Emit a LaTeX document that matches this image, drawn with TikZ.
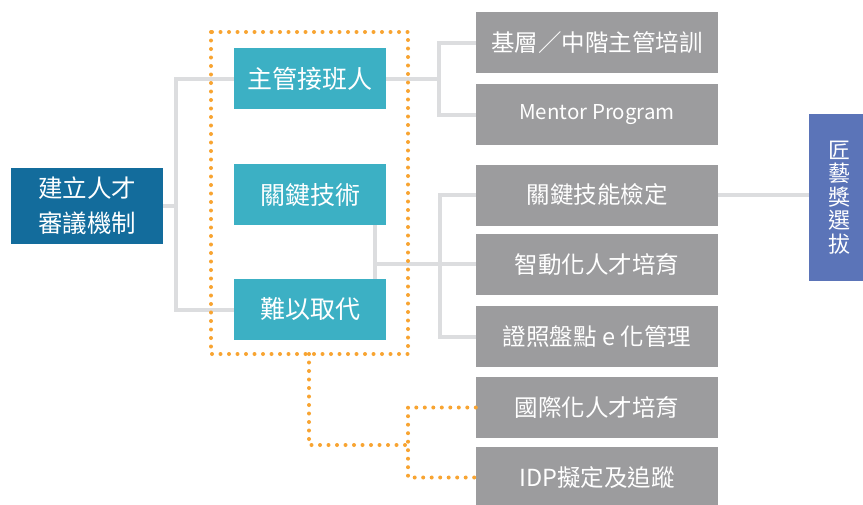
\documentclass[tikz,border=0pt]{standalone}
\usepackage{fontspec}
\setmainfont{Noto Sans CJK TC}
\definecolor{navy}{HTML}{136C9C}
\definecolor{teal}{HTML}{3CB0C4}
\definecolor{grayb}{HTML}{9C9C9E}
\definecolor{lineg}{HTML}{DCDDDF}
\definecolor{orng}{HTML}{F8A431}
\definecolor{purp}{HTML}{5B74B8}
\begin{document}
\begin{tikzpicture}[x=1pt,y=-1pt,
  basebox/.style={inner sep=0pt,text=white,font=\fontsize{23.5}{26}\selectfont},
  leftbox/.style={basebox,fill=navy,minimum width=152pt,minimum height=76pt,align=center,font=\fontsize{24.5}{35}\selectfont},
  tealbox/.style={basebox,fill=teal,minimum width=152pt,minimum height=61pt,font=\fontsize{25}{26}\selectfont},
  graybox/.style={basebox,fill=grayb,minimum width=242pt,minimum height=61pt},
  conn/.style={draw=lineg,line width=4pt},
  dotline/.style={draw=orng,line width=4pt,line cap=round,dash pattern=on 0pt off 8.5pt}]
\useasboundingbox (0,0) rectangle (863,504);
\fill[white] (0,0) rectangle (863,504);
% nodes
\node[leftbox] (L) at (87,206) {建立人才\\審議機制};
\node[tealbox] (T1) at (310,78.5) {主管接班人};
\node[tealbox] (T2) at (310,194.5) {關鍵技術};
\node[tealbox] (T3) at (310,309.5) {難以取代};
\node[graybox] (G1) at (597,42.5) {基層／中階主管培訓};
\node[graybox,font=\fontsize{20.5}{24}\selectfont] (G2) at (597,114.5) {Mentor Program};
\node[graybox] (G3) at (597,195) {關鍵技能檢定};
\node[graybox] (G4) at (597,264) {智動化人才培育};
\node[graybox] (G5) at (597,336.5) {證照盤點 e 化管理};
\node[graybox] (G6) at (597,407.5) {國際化人才培育};
\node[graybox] (G7) at (597,477.5) {IDP擬定及追蹤};
\node[basebox,fill=purp,minimum width=60pt,minimum height=167pt,align=center,font=\fontsize{22}{23.4}\selectfont] (P) at (839,197.5) {匠\\藝\\獎\\選\\拔};
% connectors
\coordinate (a1) at (176,206);
\draw[conn] (L.east) -- (a1);
\draw[conn] (T1.west) -| (a1) |- (T3.west);
\coordinate (b1) at (439,78.5);
\draw[conn] (T1.east) -- (b1);
\draw[conn] (G1.west) -| (b1) |- (G2.west);
\draw[conn] (T2.south -| 375,0) -- (T3.north -| 375,0);
\coordinate (c0) at (375,264);
\coordinate (c1) at (440,264);
\draw[conn] (c0) -- (c1);
\draw[conn] (G3.west) -| (c1) |- (G5.west);
\draw[conn] (c1) -- (G4.west);
\draw[conn] (G3.east) -- (G3.east -| P.west);
% orange dotted
\draw[dotline] (211,32) rectangle (408,354);
\coordinate (d0) at (309,354);
\coordinate (d1) at (408,445);
\draw[dotline] (d0) |- (d1);
\draw[dotline] (G6.west) -| (d1) |- (G7.west);
\end{tikzpicture}
\end{document}
